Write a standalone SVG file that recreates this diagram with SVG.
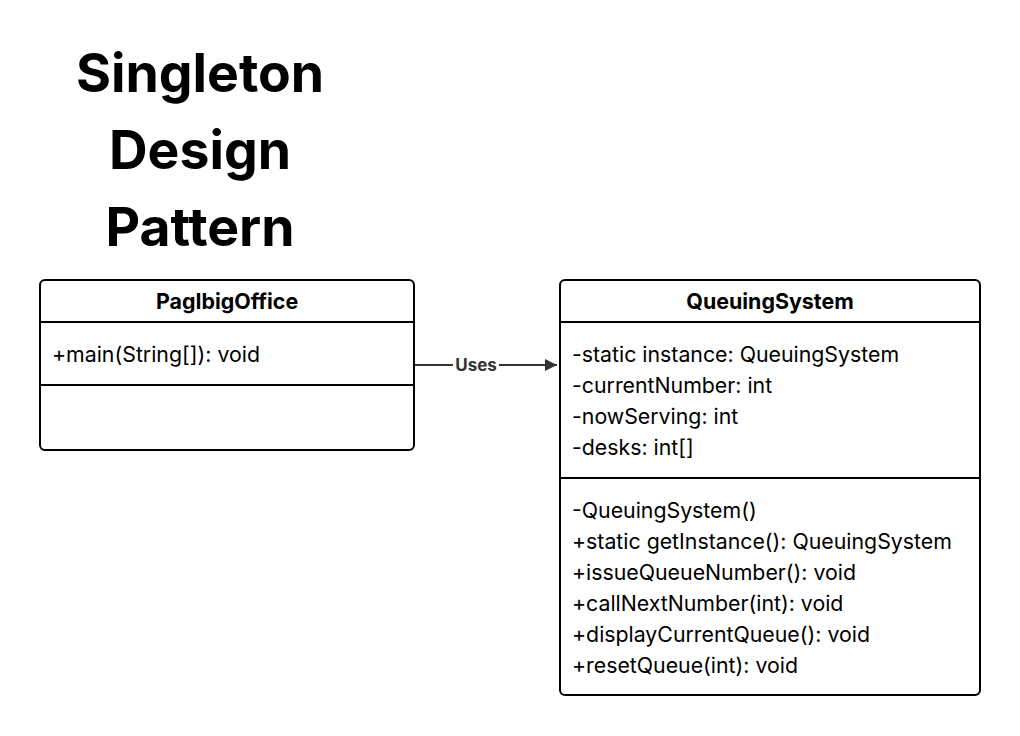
<svg xmlns="http://www.w3.org/2000/svg" width="1020" height="736" viewBox="0 0 1020 736">
<style>
.box{fill:#fff;stroke:#000;stroke-width:2}
.div{stroke:#000;stroke-width:2}
.t{font-family:Inter,"Liberation Sans",sans-serif;font-size:21.3px;fill:#000}
.h{font-family:Inter,"Liberation Sans",sans-serif;font-size:21.4px;font-weight:700;fill:#000;text-anchor:middle}
.title{font-family:Inter,"Liberation Sans",sans-serif;font-size:53.5px;font-weight:700;fill:#000;text-anchor:middle}
.lbl{font-family:Inter,"Liberation Sans",sans-serif;font-size:17px;font-weight:700;fill:#333;text-anchor:middle}
</style>
<defs>
<marker id="arr" viewBox="0 0 10 10" refX="10" refY="5" markerWidth="18" markerHeight="12" markerUnits="userSpaceOnUse" orient="auto">
<path d="M0,0 L10,5 L0,10 z" fill="#333"/>
</marker>
</defs>
<rect width="1020" height="736" fill="#fff"/>
<g id="title">
<text class="title" x="200" y="92">Singleton</text>
<text class="title" x="200" y="169">Design</text>
<text class="title" x="200" y="246">Pattern</text>
</g>
<g id="connectors">
<line x1="414" y1="365" x2="557" y2="365" stroke="#333" stroke-width="2" marker-end="url(#arr)"/>
<rect x="453" y="355" width="46" height="20" fill="#fff"/>
<text class="lbl" x="476" y="371">Uses</text>
</g>
<g id="PagIbigOffice">
<rect class="box" x="40" y="280" width="374" height="170" rx="5"/>
<line class="div" x1="40" y1="322" x2="414" y2="322"/>
<line class="div" x1="40" y1="385" x2="414" y2="385"/>
<text class="h" x="227" y="309">PagIbigOffice</text>
<text class="t" x="52" y="362">+main(String[]): void</text>
</g>
<g id="QueuingSystem">
<rect class="box" x="560" y="280" width="420" height="415" rx="5"/>
<line class="div" x1="560" y1="322" x2="980" y2="322"/>
<line class="div" x1="560" y1="478" x2="980" y2="478"/>
<text class="h" x="770" y="309">QueuingSystem</text>
<text class="t" x="572" y="362">-static instance: QueuingSystem</text>
<text class="t" x="572" y="393">-currentNumber: int</text>
<text class="t" x="572" y="424">-nowServing: int</text>
<text class="t" x="572" y="455">-desks: int[]</text>
<text class="t" x="572" y="518">-QueuingSystem()</text>
<text class="t" x="572" y="549">+static getInstance(): QueuingSystem</text>
<text class="t" x="572" y="580">+issueQueueNumber(): void</text>
<text class="t" x="572" y="611">+callNextNumber(int): void</text>
<text class="t" x="572" y="642">+displayCurrentQueue(): void</text>
<text class="t" x="572" y="673">+resetQueue(int): void</text>
</g>
</svg>
